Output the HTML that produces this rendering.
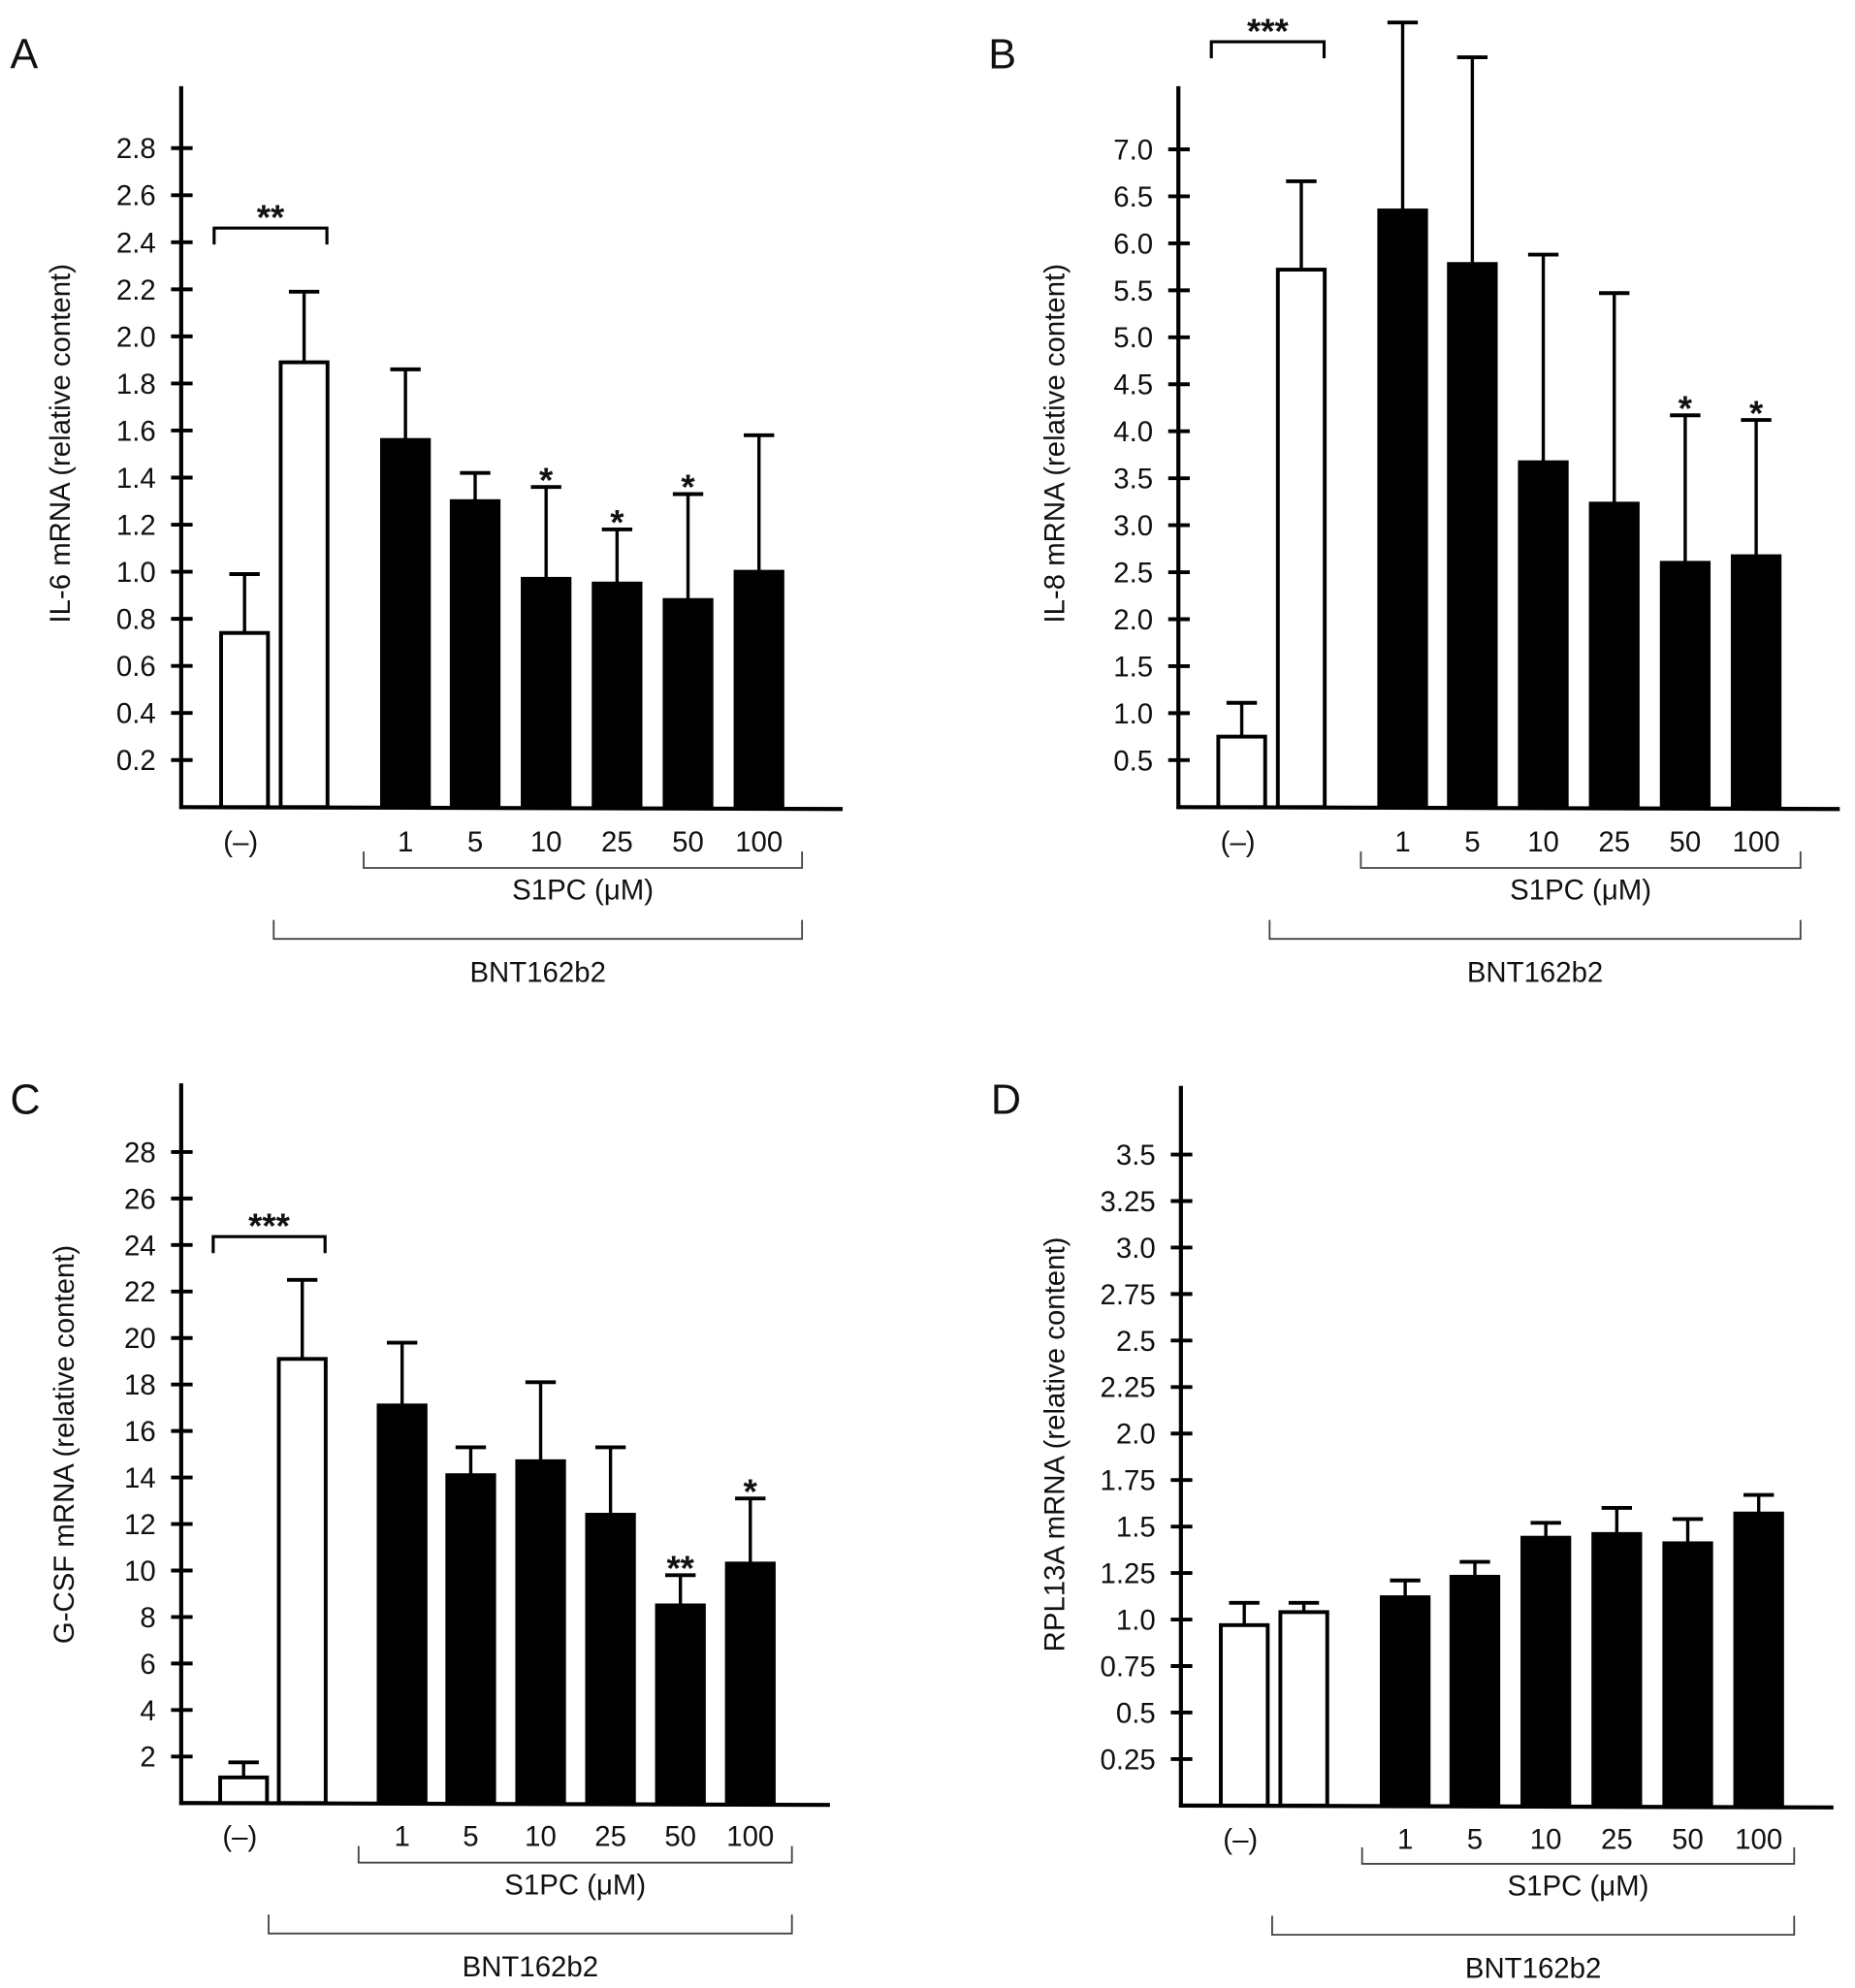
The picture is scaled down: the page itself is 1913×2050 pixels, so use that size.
<!DOCTYPE html>
<html><head><meta charset="utf-8">
<style>
html,body{margin:0;padding:0;background:#fff;}
svg{display:block;}
text{font-family:"Liberation Sans",Arial,sans-serif;fill:#111;}
</style></head>
<body>
<svg id="fig" width="1913" height="2050" viewBox="0 0 1464 1569" preserveAspectRatio="none" xmlns="http://www.w3.org/2000/svg"></svg>
<script>
// ---- data ----
const categoryLabels = ["(–)", "", "1", "5", "10", "25", "50", "100"];
const il6Values = [0.74, 1.89, 1.56, 1.30, 0.97, 0.95, 0.88, 1.00];
const il6ErrTop = [0.99, 2.19, 1.86, 1.42, 1.36, 1.18, 1.33, 1.58];
const il6Stars = ["", "", "", "", "*", "*", "*", ""];
const il6Ticks = ["0.2","0.4","0.6","0.8","1.0","1.2","1.4","1.6","1.8","2.0","2.2","2.4","2.6","2.8"];
const il8Values = [0.75, 5.72, 6.35, 5.78, 3.67, 3.23, 2.60, 2.67];
const il8ErrTop = [1.11, 6.66, 8.35, 7.98, 5.88, 5.47, 4.17, 4.12];
const il8Stars = ["", "", "", "", "", "", "*", "*"];
const il8Ticks = ["0.5","1.0","1.5","2.0","2.5","3.0","3.5","4.0","4.5","5.0","5.5","6.0","6.5","7.0"];
const gcsfValues = [1.1, 19.1, 17.1, 14.1, 14.7, 12.4, 8.5, 10.3];
const gcsfErrTop = [1.75, 22.5, 19.8, 15.3, 18.1, 15.3, 9.8, 13.1];
const gcsfStars = ["", "", "", "", "", "", "**", "*"];
const gcsfTicks = ["2","4","6","8","10","12","14","16","18","20","22","24","26","28"];
const rplValues = [0.97, 1.04, 1.12, 1.23, 1.44, 1.46, 1.41, 1.57];
const rplErrTop = [1.09, 1.09, 1.21, 1.31, 1.52, 1.60, 1.54, 1.67];
const rplStars = ["", "", "", "", "", "", "", ""];
const rplTicks = ["0.25","0.5","0.75","1.0","1.25","1.5","1.75","2.0","2.25","2.5","2.75","3.0","3.25","3.5"];

const NS = "http://www.w3.org/2000/svg";
const svg = document.getElementById("fig");
function mk(tag, attrs, parent, txt){
  const e = document.createElementNS(NS, tag);
  for (const k in attrs) e.setAttribute(k, attrs[k]);
  if (txt !== undefined) e.textContent = txt;
  (parent || svg).appendChild(e);
  return e;
}

const barOffsets = [50, 97, 177, 232, 288, 344, 400, 456];

function panel(p){
  const g = mk("g", {});
  
  
  const ax = p.ax, base = p.base;
  const step = p.step, tickPx = p.tickPx;
  const y = v => base - v / step * tickPx;
  const L = mk("text", {x: p.letterX, y: p.letterY, "font-size": 33}, g, p.letter);
  
  
  const ya = mk("line", {x1: ax, y1: p.top, x2: ax, y2: base + 1.5, stroke: "#000", "stroke-width": 3.2}, g);
  
  
  const xa = mk("line", {x1: ax - 1.5, y1: base, x2: p.right, y2: base + 1.5, stroke: "#000", "stroke-width": 3.2}, g);
  
  
  p.ticks.forEach((t, i) => {
    const ty = y(parseFloat(t));
    const tk = mk("line", {x1: ax - 8, y1: ty, x2: ax + 9, y2: ty, stroke: "#000", "stroke-width": 3}, g);
    
    
    const tl = mk("text", {x: ax - 20, y: ty + 8, "font-size": 22.5, "text-anchor": "end"}, g, t);
    
    
  });
  const ttl = mk("text", {x: 0, y: 0, "font-size": 22.5, "text-anchor": "middle", transform: `translate(${p.titleX},${p.titleY}) rotate(-90)`}, g, p.title);
  
  
  const bw = 40;
  p.values.forEach((v, i) => {
    const cx = ax + barOffsets[i] * p.sx;
    const open = i < 2;
    const ey = y(p.err[i]);
    const el = mk("line", {x1: cx, y1: y(v), x2: cx, y2: ey, stroke: "#000", "stroke-width": 2.6}, g);
    
    
    const cap = mk("line", {x1: cx - 12, y1: ey, x2: cx + 12, y2: ey, stroke: "#000", "stroke-width": 3}, g);
    
    
    const r = mk("rect", {x: cx - bw/2 + 1.5, y: y(v), width: bw - 3, height: base - y(v), fill: open ? "#fff" : "#000", stroke: "#000", "stroke-width": 3}, g);
    
    
    if (p.stars[i]) {
      const s = mk("text", {x: cx, y: ey + 4, "font-size": 28, "font-weight": "bold", "text-anchor": "middle"}, g, p.stars[i]);
      
      
    }
    const lx = i === 0 ? cx - 3 : cx;
    if (categoryLabels[i]) {
      const xl = mk("text", {x: lx, y: p.labY, "font-size": 22.5, "text-anchor": "middle"}, g, categoryLabels[i]);
      
      
    }
  });
  const b0 = ax + barOffsets[0] * p.sx - 24, b1 = ax + barOffsets[1] * p.sx + 18;
  const br = mk("path", {d: `M${b0},${p.sigY + 13} V${p.sigY} H${b1} V${p.sigY + 13}`, fill: "none", stroke: "#000", "stroke-width": 2.4}, g);
  
  
  const st = mk("text", {x: (b0 + b1) / 2, y: p.sigY + 1, "font-size": 28, "font-weight": "bold", "text-anchor": "middle"}, g, p.sigStars);
  
  
  const s1 = mk("path", {d: `M${p.s1a},${p.brY} v13 H${p.brR} v-13`, fill: "none", stroke: "#444", "stroke-width": 1.4}, g);
  
  
  const s1t = mk("text", {x: (p.s1a + p.brR) / 2, y: p.brY + 38, "font-size": 22.5, "text-anchor": "middle"}, g, "S1PC (μM)");
  
  
  const bn = mk("path", {d: `M${p.bna},${p.brY + 54} v15 H${p.brR} v-15`, fill: "none", stroke: "#444", "stroke-width": 1.4}, g);
  
  
  const bnt = mk("text", {x: (p.bna + p.brR) / 2, y: p.brY + 103, "font-size": 22.5, "text-anchor": "middle"}, g, "BNT162b2");
  
  
}

panel({name:"panel-a-il6", letter:"A", letterX:8, letterY:54, ax:143, top:68, base:637, right:665, step:0.2, tickPx:37.15,
  ticks:il6Ticks, values:il6Values, err:il6ErrTop, stars:il6Stars, title:"IL-6 mRNA (relative content)", titleX:55, titleY:350,
  sx:1, labY:672, sigY:180, sigStars:"**", s1a:287, bna:216, brR:633, brY:672});
panel({name:"panel-b-il8", letter:"B", letterX:780, letterY:54, ax:930, top:68, base:637, right:1452, step:0.5, tickPx:37.08,
  ticks:il8Ticks, values:il8Values, err:il8ErrTop, stars:il8Stars, title:"IL-8 mRNA (relative content)", titleX:840, titleY:350,
  sx:1, labY:672, sigY:33, sigStars:"***", s1a:1074, bna:1002, brR:1421, brY:672});
panel({name:"panel-c-gcsf", letter:"C", letterX:8, letterY:879, ax:143, top:855, base:1423, right:655, step:2, tickPx:36.7,
  ticks:gcsfTicks, values:gcsfValues, err:gcsfErrTop, stars:gcsfStars, title:"G-CSF mRNA (relative content)", titleX:58, titleY:1140,
  sx:0.985, labY:1457, sigY:976, sigStars:"***", s1a:283, bna:212, brR:625, brY:1457});
panel({name:"panel-d-rpl13a", letter:"D", letterX:782, letterY:879, ax:932, top:857, base:1425, right:1447, step:0.25, tickPx:36.7,
  ticks:rplTicks, values:rplValues, err:rplErrTop, stars:rplStars, title:"RPL13A mRNA (relative content)", titleX:840, titleY:1140,
  sx:1, labY:1459, sigY:-100, sigStars:"", s1a:1075, bna:1004, brR:1416, brY:1458});
</script>
</body></html>
